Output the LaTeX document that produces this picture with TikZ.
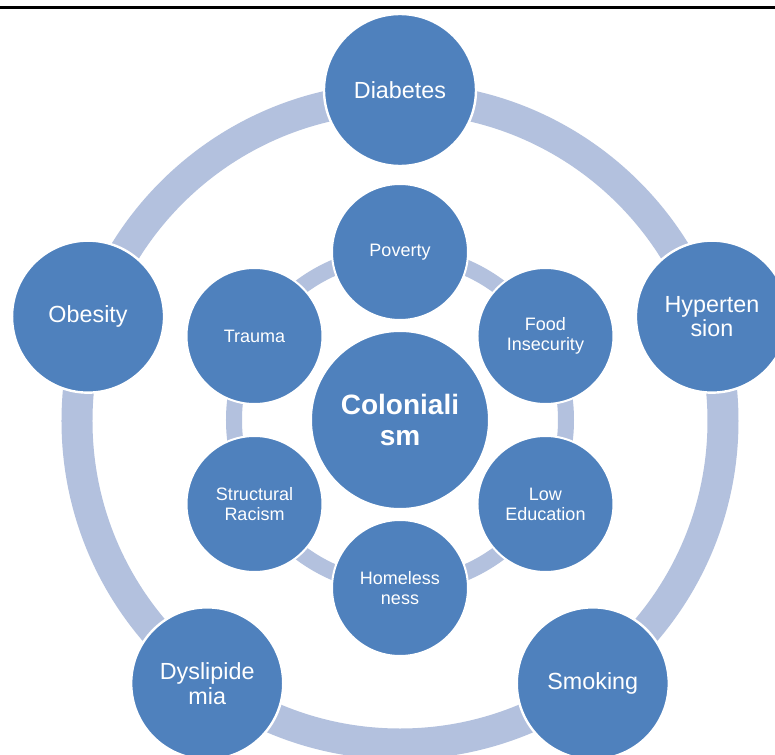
\documentclass[tikz,border=0pt]{standalone}
\usepackage{fontspec}
\setmainfont{Liberation Sans}
\usetikzlibrary{calc}
\definecolor{bubble}{RGB}{79,129,189}
\definecolor{ringblue}{RGB}{179,193,222}
\tikzset{
  outer/.style={circle, fill=bubble, draw=white, line width=1.8pt,
    minimum size=114pt, inner sep=0pt, text=white, align=center,
    font=\fontsize{17.5}{18.5}\selectfont},
  inner/.style={circle, fill=bubble, draw=white, line width=1.5pt,
    minimum size=102pt, inner sep=0pt, text=white, align=center,
    font=\fontsize{13.5}{15}\selectfont},
  core/.style={circle, fill=bubble, draw=white, line width=1.5pt,
    minimum size=133.5pt, inner sep=0pt, text=white, align=center,
    font=\fontsize{21}{23}\selectfont\bfseries}
}
\begin{document}
\begin{tikzpicture}[x=0.75pt, y=0.75pt]
  \useasboundingbox[fill=white] (-400, -336) rectangle (375, 418);
  \draw[line width=2pt] (-400, 410.5) -- (375, 410.5);
  % rings behind the circles
  \coordinate (mid) at (0, -2);
  \draw[ringblue, line width=23.25pt] (0, -3) circle (323);
  \draw[ringblue, line width=12pt] (mid) circle (166);
  % outer ring
  \node[outer] (diabetes) at (90:328) {Diabetes};
  \node[outer] (hyper) at (18:328) {Hyperten\\sion};
  \node[outer] (smoking) at (-54:328) {Smoking};
  \node[outer] (dyslip) at (-126:328) {Dyslipide\\mia};
  \node[outer] (obesity) at (162:328) {Obesity};
  % inner ring
  \node[inner] (poverty) at ($(mid)+(90:168)$) {Poverty};
  \node[inner] (food) at ($(mid)+(30:168)$) {Food\\Insecurity};
  \node[inner] (lowedu) at ($(mid)+(-30:168)$) {Low\\Education};
  \node[inner] (homeless) at ($(mid)+(-90:168)$) {Homeless\\ness};
  \node[inner] (racism) at ($(mid)+(-150:168)$) {Structural\\Racism};
  \node[inner] (trauma) at ($(mid)+(150:168)$) {Trauma};
  \node[core] (colonial) at (mid) {Coloniali\\sm};
\end{tikzpicture}
\end{document}
